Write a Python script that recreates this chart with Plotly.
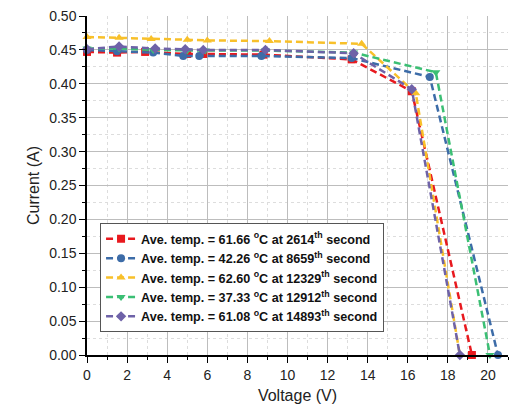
import plotly.graph_objects as go

names = [
    "Ave. temp. = 61.66 <sup>o</sup>C at 2614<sup>th</sup> second",
    "Ave. temp. = 42.26 <sup>o</sup>C at 8659<sup>th</sup> second",
    "Ave. temp. = 62.60 <sup>o</sup>C at 12329<sup>th</sup> second",
    "Ave. temp. = 37.33 <sup>o</sup>C at 12912<sup>th</sup> second",
    "Ave. temp. = 61.08 <sup>o</sup>C at 14893<sup>th</sup> second",
]

v_red = [0, 1.5, 2.9, 5.0, 5.8, 8.8, 13.2, 16.2, 19.2]
i_red = [0.447, 0.446, 0.447, 0.444, 0.444, 0.443, 0.436, 0.389, 0.0]

v_blue = [0, 1.5, 3.3, 4.8, 5.6, 8.7, 13.2, 17.1, 20.5]
i_blue = [0.450, 0.448, 0.446, 0.441, 0.441, 0.441, 0.438, 0.410, 0.0]

v_yellow = [0, 1.6, 3.2, 5.0, 6.0, 9.1, 13.7, 16.4, 18.6]
i_yellow = [0.469, 0.468, 0.466, 0.465, 0.464, 0.463, 0.459, 0.386, 0.0]

v_green = [0, 1.6, 3.3, 5.0, 5.9, 8.9, 13.3, 17.4, 20.1]
i_green = [0.452, 0.452, 0.450, 0.449, 0.449, 0.449, 0.446, 0.417, 0.0]

v_purple = [0, 1.6, 3.4, 4.9, 5.8, 8.9, 13.3, 16.2, 18.6]
i_purple = [0.451, 0.455, 0.452, 0.451, 0.450, 0.450, 0.445, 0.392, 0.0]

x_ticks = [0, 2, 4, 6, 8, 10, 12, 14, 16, 18, 20]
y_ticks = [0.00, 0.05, 0.10, 0.15, 0.20, 0.25, 0.30, 0.35, 0.40, 0.45, 0.50]

series = [
    (v_red, i_red, "#E8191E", "square"),
    (v_blue, i_blue, "#3D6CA8", "circle"),
    (v_yellow, i_yellow, "#F8C02A", "triangle-up"),
    (v_green, i_green, "#3BBF74", "triangle-down"),
    (v_purple, i_purple, "#6E62A8", "diamond"),
]

fig = go.Figure()
for (v, i, c, sym), nm in zip(series, names):
    fig.add_trace(go.Scatter(
        x=v, y=i, mode="lines+markers", name=nm,
        line=dict(color=c, width=2.5, dash="7px,4px"),
        marker=dict(color=c, symbol=sym, size=8),
        cliponaxis=False,
    ))

axis_font = dict(family="Liberation Sans, Arial, sans-serif", size=14, color="#222")

fig.update_layout(
    width=510, height=414,
    margin=dict(l=87, r=2, t=16, b=59),
    paper_bgcolor="white", plot_bgcolor="white",
    font=dict(family="Liberation Sans, Arial, sans-serif", color="#222"),
    showlegend=True,
    legend=dict(
        x=0.031, y=0.389, xanchor="left", yanchor="top",
        bgcolor="white", bordercolor="#555", borderwidth=1,
        font=dict(size=12.6, weight="bold", color="#111"),
        tracegroupgap=0, itemwidth=30,
    ),
    xaxis=dict(
        range=[0, 21], tickvals=x_ticks, ticks="outside", ticklen=6, tickcolor="black",
        showline=True, linecolor="black", linewidth=1.5, mirror=False, automargin=False,
        showgrid=True, gridcolor="#BDBDBD", gridwidth=1, zeroline=False,
        tickfont=axis_font,
        title=dict(text="Voltage (V)", font=dict(size=16, color="#222"), standoff=8),
        minor=dict(dtick=1, ticks="outside", ticklen=3, tickcolor="black",
                   showgrid=True, gridcolor="#DDDDDD", griddash="dot"),
    ),
    yaxis=dict(
        range=[0, 0.5], tickvals=y_ticks, tickformat=".2f", ticks="outside", ticklen=6, tickcolor="black",
        showline=True, linecolor="black", linewidth=1.5, automargin=False,
        ticklabeloverflow="allow",
        showgrid=True, gridcolor="#BDBDBD", gridwidth=1, zeroline=False,
        tickfont=axis_font,
        title=dict(text="Current (A)", font=dict(size=16, color="#222"), standoff=6),
        minor=dict(dtick=0.025, ticks="outside", ticklen=3, tickcolor="black",
                   showgrid=True, gridcolor="#DDDDDD", griddash="dot"),
    ),
)

fig.write_html("out.html", config={"displayModeBar": False},
               post_script="document.body.style.margin='0';")
